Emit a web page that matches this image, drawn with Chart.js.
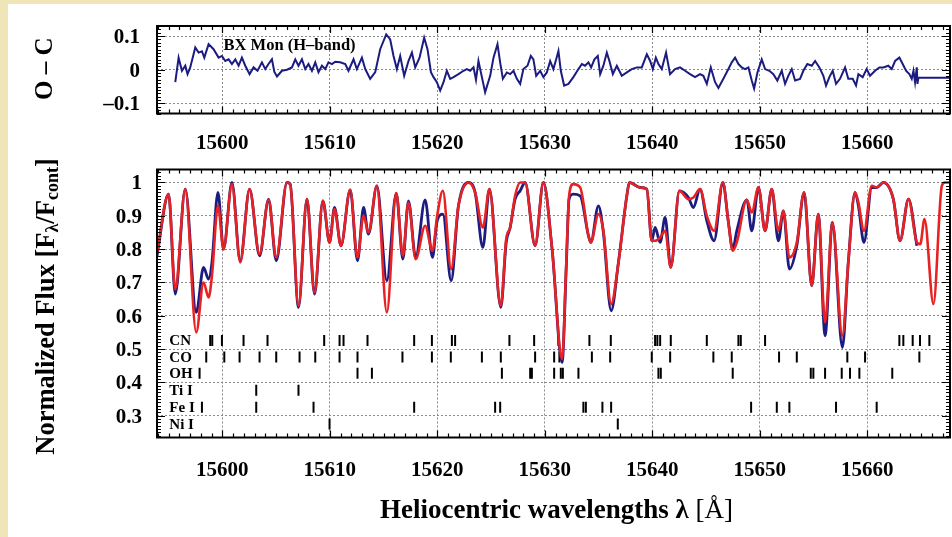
<!DOCTYPE html>
<html><head><meta charset="utf-8">
<script src="https://cdn.jsdelivr.net/npm/chart.js@4.4.1/dist/chart.umd.min.js"></script>
<style>
html,body{margin:0;padding:0;background:#fff;overflow:hidden;}
#wrap{position:relative;width:952px;height:537px;background:#fff;overflow:hidden;}
.bgt{position:absolute;left:0;top:0;width:952px;height:4px;background:#f0e5b6;}
.bgl{position:absolute;left:0;top:0;width:8px;height:537px;background:#f0e5b6;}
canvas{position:absolute;left:0;}
</style></head><body>
<div id="wrap">
<canvas id="oc" width="952" height="150" style="top:0;width:952px;height:150px"></canvas>
<canvas id="flux" width="952" height="387" style="top:150px;width:952px;height:387px"></canvas>
<div class="bgt"></div><div class="bgl"></div>
</div>
<script>
// ---------------- data ----------------
const wlMin = 15593.93, wlMax = 15667.69;
const xTicks = [15600,15610,15620,15630,15640,15650,15660];
const ocTicks = [-0.1, 0, 0.1];
const fluxTicks = [0.3,0.4,0.5,0.6,0.7,0.8,0.9,1.0];

const ocWave = [
15595.63,15595.94,15596.25,15596.56,15596.77,15597.02,15597.49,15597.80,15598.11,15598.33,
15598.73,15599.19,15599.66,15599.97,15600.28,15600.59,15600.90,15601.21,15601.52,15601.83,
15602.14,15602.54,15602.91,15603.28,15603.69,15604.00,15604.30,15604.62,15604.84,15605.09,
15605.55,15606.02,15606.48,15606.79,15607.09,15607.41,15607.72,15608.02,15608.34,15608.65,
15608.95,15609.27,15609.58,15609.88,15610.20,15610.51,15610.97,15611.44,15611.74,15612.21,
15612.52,15612.99,15613.30,15613.76,15614.23,15614.69,15615.25,15615.62,15615.93,15616.24,
15616.55,15616.92,15617.32,15617.64,15617.95,15618.35,15618.78,15619.09,15619.41,15619.65,
15619.96,15620.27,15620.58,15620.89,15621.20,15621.51,15621.97,15622.44,15622.75,15623.06,
15623.37,15623.60,15623.83,15624.15,15624.45,15624.92,15625.23,15625.60,15625.85,15626.10,
15626.47,15626.78,15627.09,15627.40,15627.71,15628.01,15628.39,15628.70,15628.94,15629.20,
15629.57,15629.87,15630.19,15630.50,15630.80,15631.06,15631.27,15631.49,15631.80,15632.20,
15632.66,15633.13,15633.45,15633.75,15634.06,15634.31,15634.62,15634.93,15635.15,15635.45,
15635.77,15636.01,15636.33,15636.70,15637.16,15637.63,15638.09,15638.56,15639.02,15639.49,
15639.80,15640.05,15640.33,15640.57,15640.88,15641.28,15641.65,15642.12,15642.58,15643.05,
15643.51,15643.98,15644.44,15644.75,15645.07,15645.44,15645.84,15646.15,15646.61,15647.08,
15647.39,15647.70,15648.01,15648.32,15648.63,15648.94,15649.25,15649.47,15649.78,15650.18,
15650.49,15650.89,15651.26,15651.63,15652.04,15652.35,15652.65,15652.97,15653.28,15653.74,
15654.05,15654.42,15654.83,15655.14,15655.54,15655.91,15656.16,15656.47,15656.78,15657.09,
15657.46,15657.93,15658.23,15658.64,15658.95,15659.17,15659.57,15659.94,15660.25,15660.72,
15661.12,15661.49,15661.95,15662.27,15662.58,15662.98,15663.29,15663.60,15663.91,15664.13,
15664.29,15664.44,15664.60,15664.66,15664.75,15667.69];
const ocValue = [
-0.037,0.036,-0.003,0.012,-0.013,0.007,0.066,0.051,0.055,0.036,
0.076,0.061,0.036,0.041,0.026,0.031,0.017,0.031,0.012,0.036,
0.012,-0.013,0.007,-0.003,0.022,0.002,0.017,0.031,-0.006,-0.020,
-0.003,0.000,0.007,0.031,0.012,0.031,0.002,0.017,-0.003,0.022,
-0.007,0.012,0.002,0.022,0.017,0.024,0.022,0.017,-0.003,0.031,
0.002,0.036,0.002,-0.027,-0.007,0.061,0.105,0.090,0.041,0.002,
0.041,-0.018,0.026,0.051,0.007,0.036,0.095,0.061,-0.007,-0.022,
-0.037,-0.062,-0.037,-0.003,-0.027,-0.022,-0.013,-0.003,0.002,-0.003,
0.007,-0.030,0.026,-0.022,-0.067,-0.018,0.036,0.076,0.021,-0.027,
-0.008,-0.013,-0.003,-0.027,-0.042,0.002,0.012,0.041,0.031,-0.018,
-0.003,-0.022,-0.008,0.026,0.002,0.031,0.056,-0.003,-0.047,-0.042,
-0.022,0.002,0.017,0.012,0.022,0.007,0.031,0.041,-0.013,0.012,
0.051,0.026,-0.013,0.012,-0.018,-0.008,0.002,0.007,0.007,0.046,
0.026,0.002,0.036,0.017,0.002,0.051,-0.013,0.002,0.007,-0.003,
-0.013,-0.022,-0.013,-0.018,-0.042,0.007,-0.037,-0.054,-0.027,0.002,
0.022,0.036,0.017,0.007,0.002,0.007,-0.032,-0.056,-0.008,0.031,
0.002,-0.003,-0.013,-0.032,-0.003,-0.042,-0.018,0.002,-0.032,-0.027,
-0.003,0.017,0.012,0.026,0.007,-0.018,-0.047,-0.022,-0.003,-0.042,
-0.027,0.007,-0.027,-0.027,-0.047,-0.013,-0.022,0.002,-0.018,-0.003,
0.007,0.007,0.012,0.002,0.026,0.036,0.017,-0.003,-0.013,-0.027,
-0.003,-0.037,0.007,-0.042,-0.024,-0.024];

const specWave = [
15593.93,15595.01,15595.63,15596.56,15597.58,15598.26,15598.73,15599.04,15599.60,15600.12,
15600.90,15601.67,15602.54,15603.47,15604.31,15605.02,15606.02,15606.32,15607.09,15607.88,
15608.58,15609.36,15609.98,15610.44,15611.04,15611.90,15612.58,15613.14,15613.60,15614.38,
15615.31,15616.18,15616.80,15617.32,15617.99,15618.87,15619.55,15619.99,15620.52,15621.29,
15621.97,15622.90,15623.52,15624.24,15624.85,15625.91,15626.41,15626.78,15627.24,15627.71,
15628.17,15629.10,15629.87,15630.68,15631.61,15631.99,15632.26,15632.64,15633.29,15634.06,
15634.28,15634.99,15635.45,15636.17,15636.85,15637.63,15637.87,15638.87,15639.49,15639.95,
15640.26,15640.73,15641.19,15641.72,15642.52,15643.36,15643.82,15644.44,15645.07,15645.75,
15646.56,15647.08,15647.48,15647.86,15648.79,15649.25,15649.87,15650.49,15651.11,15651.73,
15652.19,15652.75,15653.44,15654.12,15654.83,15655.44,15656.07,15656.75,15657.68,15658.23,
15658.86,15659.17,15659.69,15660.41,15660.87,15661.49,15662.42,15663.04,15663.83,15664.61,
15664.92,15665.32,15666.15,15666.93,15667.24,15667.69];
const observed = [
0.78,0.965,0.665,0.98,0.61,0.745,0.71,0.76,0.97,0.80,
1.0,0.765,0.98,0.78,0.95,0.765,1.0,0.995,0.625,0.95,
0.665,0.945,0.82,0.925,0.81,0.978,0.765,0.925,0.845,0.99,
0.705,0.968,0.77,0.945,0.775,0.948,0.775,0.885,0.905,0.705,
0.93,1.0,0.97,0.805,0.98,0.625,0.82,0.865,0.95,0.975,
1.0,0.81,1.0,0.80,0.46,0.74,0.95,0.965,0.96,0.84,
0.82,0.93,0.85,0.615,0.76,0.96,1.0,0.985,0.98,0.825,
0.865,0.82,0.895,0.745,0.975,0.955,0.925,0.98,0.885,0.825,
1.0,0.88,0.80,0.855,0.948,0.855,0.985,0.855,0.98,0.825,
0.915,0.74,0.81,0.97,0.69,0.905,0.54,0.88,0.505,0.76,
0.97,0.93,0.82,0.985,0.985,1.0,0.95,0.825,0.95,0.81];
const model = [
0.79,0.965,0.68,0.98,0.55,0.70,0.655,0.72,0.93,0.80,
0.995,0.76,0.98,0.785,0.948,0.775,1.0,0.995,0.63,0.95,
0.67,0.945,0.82,0.92,0.81,0.978,0.775,0.90,0.85,0.99,
0.61,0.968,0.78,0.94,0.77,0.87,0.795,0.90,0.975,0.74,
0.93,1.0,0.97,0.865,0.98,0.63,0.83,0.865,0.96,1.0,
1.0,0.81,1.0,0.80,0.47,0.75,0.96,0.995,0.985,0.84,
0.82,0.905,0.855,0.635,0.76,0.96,1.0,0.985,0.98,0.825,
0.825,0.835,0.855,0.745,0.975,0.95,0.955,0.98,0.90,0.855,
1.0,0.88,0.795,0.82,0.948,0.91,0.985,0.855,0.98,0.855,
0.915,0.775,0.82,0.97,0.69,0.905,0.58,0.88,0.54,0.76,
0.97,0.94,0.855,0.99,0.985,1.0,0.95,0.825,0.95,0.82,
0.815,0.89,0.635,0.99,1.0,1.0];

const speciesNames = ['CN','CO','OH','Ti I','Fe I','Ni I'];
const cnLines = [15598.88,15599.07,15599.97,15601.98,15604.21,15609.48,15610.91,15611.28,15613.51,15617.85,
  15619.50,15621.36,15621.66,15626.71,15629.01,15631.27,15634.15,15636.14,15640.26,15640.47,15640.73,
  15641.72,15645.07,15648.01,15648.23,15650.49,15662.98,15663.35,15664.22,15664.90,15665.77];
const coLines = [15598.51,15600.19,15601.61,15603.47,15605.02,15607.19,15608.65,15610.91,15612.58,15616.76,
  15619.50,15621.26,15624.15,15625.91,15629.10,15630.87,15631.36,15634.38,15636.08,15639.95,15641.66,
  15645.68,15647.39,15651.79,15653.44,15658.14,15659.79,15664.84];
const ohLines = [15597.89,15612.58,15613.92,15626.01,15628.64,15628.80,15630.87,15631.49,15631.68,15633.13,
  15640.57,15640.79,15647.48,15654.74,15654.98,15656.07,15657.62,15658.39,15659.26,15662.32];
const tiLines = [15603.16,15607.09];
const feLines = [15598.11,15603.16,15608.49,15617.85,15625.38,15625.85,15633.59,15633.82,15635.36,15636.17,
  15649.19,15651.58,15652.75,15657.09,15660.87];
const niLines = [15609.98,15636.79];
const speciesLines = [cnLines, coLines, ohLines, tiLines, feLines, niLines];

// ---------------- styling ----------------
const SERIF = '"Liberation Serif","Times New Roman",serif';
const BLUE = '#1b1b80';
const RED = '#e82222';
const rowLevel = [0.526,0.476,0.427,0.376,0.325,0.275];

const framePlugin = {
  id: 'frame',
  afterDatasetsDraw(chart) {
    const {ctx, chartArea: ca} = chart;
    const x = chart.scales.x, y = chart.scales.y;
    ctx.save();
    ctx.strokeStyle = '#000';
    ctx.lineWidth = 1.2;
    ctx.beginPath();
    for (let w = Math.ceil(x.min); w <= x.max; w++) {
      const px = Math.round(x.getPixelForValue(w)) + 0.5;
      const len = (w % 10 === 0) ? 7 : 4;
      ctx.moveTo(px, ca.top); ctx.lineTo(px, ca.top + len);
      ctx.moveTo(px, ca.bottom); ctx.lineTo(px, ca.bottom - len);
    }
    const k0 = Math.ceil(y.min * 100 - 1e-6), k1 = Math.floor(y.max * 100 + 1e-6);
    for (let k = k0; k <= k1; k++) {
      const py = Math.round(y.getPixelForValue(k / 100)) + 0.5;
      const len = (k % 10 === 0) ? 8 : 4;
      ctx.moveTo(ca.left, py); ctx.lineTo(ca.left + len, py);
      ctx.moveTo(ca.right, py); ctx.lineTo(ca.right - len, py);
    }
    ctx.stroke();
    ctx.lineWidth = 2;
    ctx.strokeRect(ca.left, ca.top, ca.right - ca.left, ca.bottom - ca.top);
    ctx.restore();
  }
};

function drawParts(ctx, parts, cx, cy) {
  let total = 0;
  parts.forEach(p => { ctx.font = p.f; p.w = ctx.measureText(p.t).width; total += p.w; });
  let x = cx - total / 2;
  parts.forEach(p => { ctx.font = p.f; ctx.fillText(p.t, x, cy + (p.dy || 0)); x += p.w; });
}

function xScaleOpts(pad, h) {
  return {
    type: 'linear', min: wlMin, max: wlMax,
    afterBuildTicks: s => { s.ticks = xTicks.map(v => ({value: v})); },
    afterFit: s => { s.height = h; s.paddingLeft = 0; s.paddingRight = 0; },
    ticks: { color: '#000', padding: pad, maxRotation: 0, autoSkip: false,
      font: { family: SERIF, weight: 'bold', size: 21 }, callback: v => String(v) },
    grid: { color: '#8a8a8a', lineWidth: 1, drawTicks: false },
    border: { display: false, dash: [2, 2] }
  };
}

// ---------------- O - C panel ----------------
new Chart(document.getElementById('oc'), {
  type: 'line',
  data: { datasets: [{
    data: ocWave.map((w, i) => ({x: w, y: ocValue[i]})),
    borderColor: BLUE, borderWidth: 2, pointRadius: 0, tension: 0, fill: false
  }]},
  options: {
    responsive: false, animation: false, devicePixelRatio: 1,
    layout: { autoPadding: false, padding: { top: 26, right: 2, left: 0, bottom: 0 } },
    plugins: { legend: { display: false }, tooltip: { enabled: false } },
    scales: {
      x: xScaleOpts(17, 36.5),
      y: {
        min: -0.13, max: 0.13,
        afterBuildTicks: s => { s.ticks = ocTicks.map(v => ({value: v})); },
        afterFit: s => { s.width = 157; s.paddingTop = 0; s.paddingBottom = 0; },
        ticks: { color: '#000', padding: 17, labelOffset: 1.5, font: { family: SERIF, weight: 'bold', size: 21 },
          callback: v => v < 0 ? '\u2013' + String(Math.abs(v)) : String(v) },
        grid: { color: '#8a8a8a', lineWidth: 1, drawTicks: false },
        border: { display: false, dash: [2, 2] }
      }
    }
  },
  plugins: [framePlugin, {
    id: 'ocText',
    afterDraw(chart) {
      const ctx = chart.ctx, x = chart.scales.x, y = chart.scales.y, ca = chart.chartArea;
      ctx.save();
      ctx.fillStyle = '#000';
      ctx.textBaseline = 'middle';
      ctx.textAlign = 'left';
      ctx.font = 'bold 16.5px ' + SERIF;
      ctx.fillText('BX Mon (H\u2013band)', x.getPixelForValue(15600.12), y.getPixelForValue(0.07));
      ctx.translate(46, (ca.top + ca.bottom) / 2 - 1);
      ctx.rotate(-Math.PI / 2);
      drawParts(ctx, [{t: 'O \u2013 C', f: 'bold 25px ' + SERIF}], 0, 0);
      ctx.restore();
    }
  }]
});

// ---------------- flux panel ----------------
const lineSets = speciesLines.map((arr, i) => ({
  data: arr.map(w => ({x: w, y: rowLevel[i]})),
  showLine: false, pointStyle: 'line', pointRotation: 90, pointRadius: 5.5,
  pointBorderWidth: 2, pointBorderColor: '#000', borderColor: '#000', order: 3
}));

new Chart(document.getElementById('flux'), {
  type: 'line',
  data: { datasets: [
    { data: specWave.slice(0, observed.length).map((w, i) => ({x: w, y: observed[i]})),
      borderColor: BLUE, borderWidth: 2.8, pointRadius: 0, cubicInterpolationMode: 'monotone', fill: false, order: 2 },
    { data: specWave.map((w, i) => ({x: w, y: model[i]})),
      borderColor: RED, borderWidth: 2.6, pointRadius: 0, cubicInterpolationMode: 'monotone', fill: false, order: 1 },
    ...lineSets
  ]},
  options: {
    responsive: false, animation: false, devicePixelRatio: 1,
    layout: { autoPadding: false, padding: { top: 19.5, right: 2, left: 0, bottom: 0 } },
    plugins: { legend: { display: false }, tooltip: { enabled: false } },
    scales: {
      x: xScaleOpts(20, 99.5),
      y: {
        min: 0.2345, max: 1.039,
        afterBuildTicks: s => { s.ticks = fluxTicks.map(v => ({value: v})); },
        afterFit: s => { s.width = 157; s.paddingTop = 0; s.paddingBottom = 0; },
        ticks: { color: '#000', padding: 15, labelOffset: 1.5, font: { family: SERIF, weight: 'bold', size: 21 },
          callback: v => v === 1 ? '1' : v.toFixed(1) },
        grid: { color: '#8a8a8a', lineWidth: 1, drawTicks: false },
        border: { display: false, dash: [2, 2] }
      }
    }
  },
  plugins: [framePlugin, {
    id: 'fluxText',
    afterDraw(chart) {
      const ctx = chart.ctx, x = chart.scales.x, y = chart.scales.y, ca = chart.chartArea;
      ctx.save();
      ctx.fillStyle = '#000';
      ctx.textBaseline = 'middle';
      ctx.textAlign = 'left';
      ctx.font = 'bold 15px ' + SERIF;
      speciesNames.forEach((n, i) => ctx.fillText(n, x.getPixelForValue(15595.08), y.getPixelForValue(rowLevel[i]) + 1));
      // x title
      ctx.textBaseline = 'alphabetic';
      drawParts(ctx, [
        {t: 'Heliocentric wavelengths ', f: 'bold 27px ' + SERIF},
        {t: '\u03bb', f: 'bold 27px ' + SERIF},
        {t: ' [\u00c5]', f: '27px ' + SERIF}
      ], (ca.left + ca.right) / 2 + 3, 368);
      // y title
      ctx.translate(47, (ca.top + ca.bottom) / 2 + 3);
      ctx.rotate(-Math.PI / 2);
      ctx.textBaseline = 'middle';
      drawParts(ctx, [
        {t: 'Normalized Flux [F', f: 'bold 26.5px ' + SERIF},
        {t: '\u03bb', f: 'bold 18px ' + SERIF, dy: 6},
        {t: '/F', f: 'bold 26.5px ' + SERIF},
        {t: 'cont', f: 'bold 18px ' + SERIF, dy: 6},
        {t: ']', f: 'bold 26.5px ' + SERIF}
      ], 0, 0);
      ctx.restore();
    }
  }]
});
</script>
</body></html>
